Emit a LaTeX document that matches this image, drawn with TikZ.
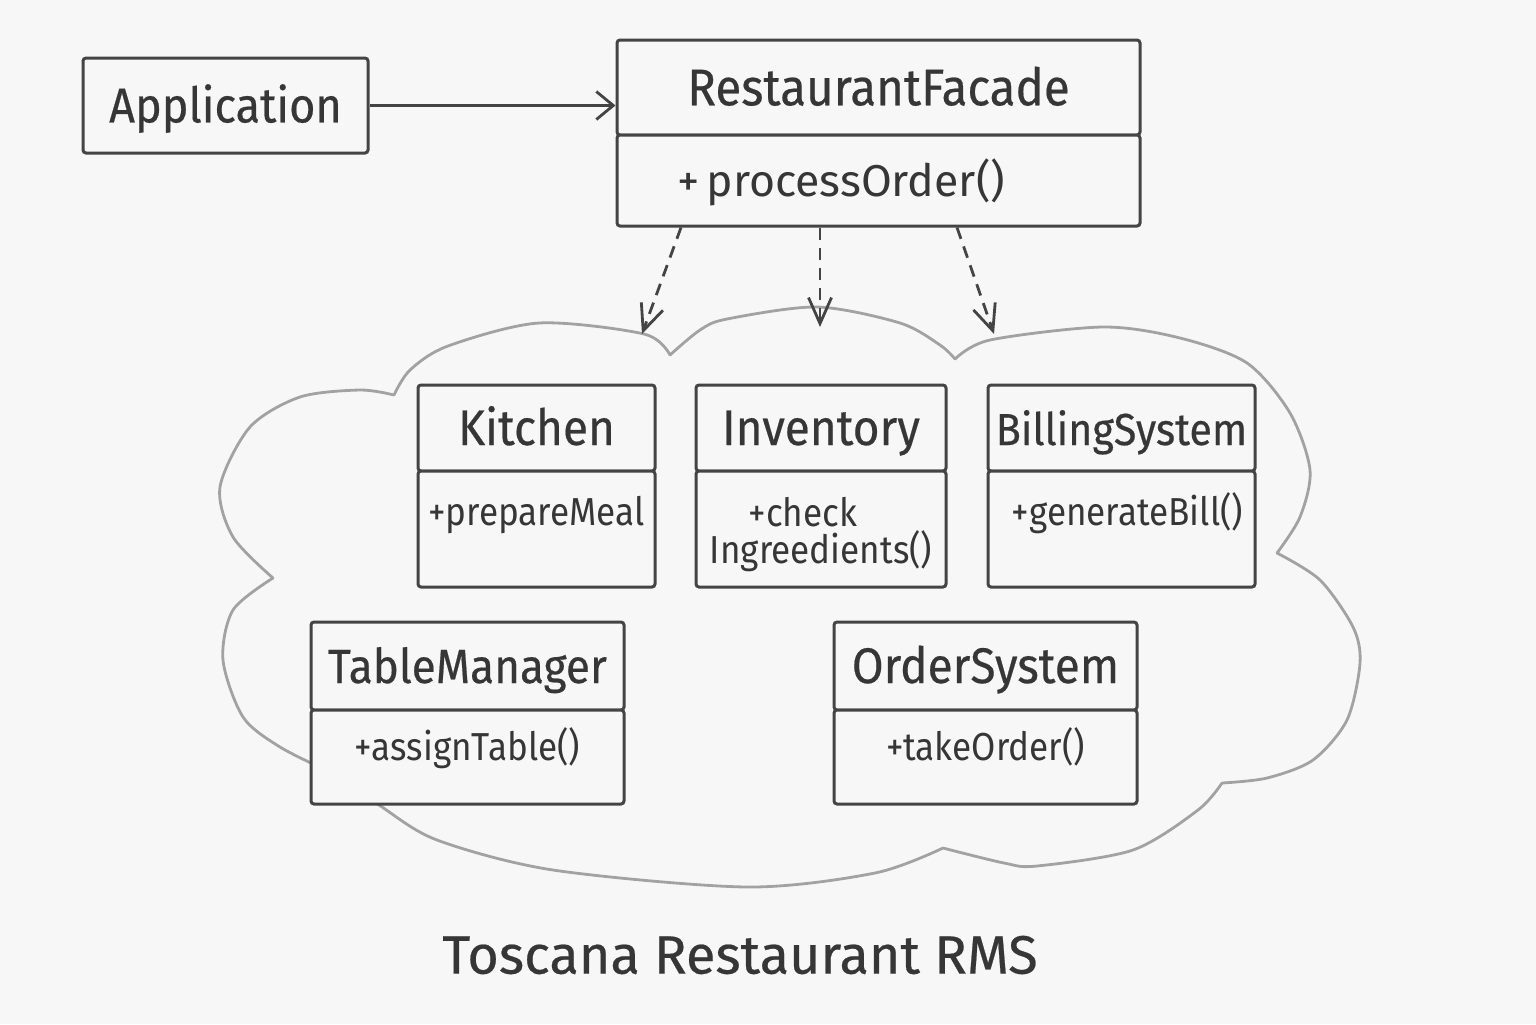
\documentclass[tikz,border=0pt]{standalone}
\usepackage{fontspec}
\setmainfont{Fira Sans}
\newfontfamily\hdfont{Fira Sans}[FakeBold=0.4,FakeStretch=0.92]
\newfontfamily\ttlfont{Fira Sans}[FakeBold=0.4]
\newfontfamily\opsfont{Fira Sans}[FakeStretch=0.9]
\usetikzlibrary{positioning,arrows.meta}
\definecolor{ink}      {HTML}{444444}
\definecolor{txt}      {HTML}{363636}
\definecolor{cloudgray}{HTML}{A2A2A2}
\definecolor{paper}    {HTML}{F7F7F7}
\tikzset{
  every node/.style={text=txt},
  % --- nodes
  box/.style   = {draw=ink, fill=paper, line width=1.5pt, rounded corners=1.5pt, inner sep=0pt},
  hd/.style    = {box, font=\hdfont\fontsize{25}{29}\selectfont, text height=17pt, text depth=0pt},
  ops/.style   = {box, font=\opsfont\fontsize{19.5}{18.5}\selectfont, align=center},
  ttl/.style   = {font=\ttlfont\fontsize{27}{32}\selectfont},
  % --- edges
  e/.style     = {-{Straight Barb[length=8.5pt,width=14pt]}, line width=1.4pt, draw=ink},
  ed/.style    = {e, dash pattern=on 6pt off 4pt, -{Straight Barb[length=13pt,width=11.5pt]}},
  cloudln/.style = {draw=cloudgray, line width=1.4pt, line join=round, line cap=round},
}
\begin{document}
\begin{tikzpicture}[x=0.5pt,y=-0.5pt]
  \fill[paper] (0,0) rectangle (1536,1024);
  \useasboundingbox (0,0) rectangle (1536,1024);
  % the subsystem cloud
  \draw[cloudln]
    plot[smooth] coordinates {(394,395) (410,370) (448,346) (539,323) (644,334) (670,355)}
    plot[smooth] coordinates {(670,355) (700,330) (727,319) (817,307) (900,323) (940,345) (955,359)}
    plot[smooth] coordinates {(955,359) (990,340) (1103,327) (1180,338) (1247,363) (1290,413) (1310,470) (1300,517) (1277,553)}
    plot[smooth] coordinates {(1277,553) (1320,580) (1353,627) (1360,663) (1347,720) (1313,760) (1267,778) (1222,783)}
    plot[smooth] coordinates {(1222,783) (1198,810) (1133,850) (1037,866) (1004,863) (943,848)}
    plot[smooth] coordinates {(943,848) (875,873) (747,887) (553,870) (437,840) (379,805) (330,772)}
    plot[smooth] coordinates {(330,772) (280,747) (243,717) (223,660) (233,610) (273,578)}
    plot[smooth] coordinates {(273,578) (233,537) (220,487) (250,427) (300,397) (360,390) (394,395)};

  \node[hd, minimum width=142.5pt, minimum height=47.5pt, font=\hdfont\fontsize{24.5}{29}\selectfont,
        text height=16.9pt] (app) at (225.5,105.5) {Application};
  \node[hd, minimum width=261.5pt, minimum height=47.5pt, font=\hdfont\fontsize{25.8}{30}\selectfont,
        text height=17.8pt] (facade) at (878.5,87.5) {RestaurantFacade};
  \node[ops, below=-1.5pt of facade, align=left, inner xsep=30pt, text width=201.5pt,
        font=\rmfamily\fontsize{22.3}{27}\selectfont, text height=30.5pt, text depth=15pt] (facadeops) {+\,processOrder()};

  \node[hd, minimum width=118.5pt, minimum height=43pt] (kitchen) at (536.5,428) {Kitchen};
  \node[ops, below=-1.5pt of kitchen, minimum width=118.5pt, text height=27pt, text depth=31pt] (kitchenops) {+prepareMeal};
  \node[hd, minimum width=125pt, minimum height=43pt] (inventory) at (821,428) {Inventory};
  \node[ops, below=-1.5pt of inventory, minimum width=125pt, text height=46pt, text depth=12pt] (inventoryops) {+check\hspace*{18pt}\\Ingreedients()};
  \node[hd, minimum width=133.5pt, minimum height=43pt, font=\hdfont\fontsize{22.4}{27}\selectfont] (billing) at (1121.5,428) {BillingSystem};
  \node[ops, below=-1.5pt of billing, minimum width=133.5pt, text height=27pt, text depth=31pt] (billingops) {\hspace*{6pt}+generateBill()};

  \node[hd, minimum width=156.5pt, minimum height=44pt, font=\hdfont\fontsize{24}{28}\selectfont] (tables) at (467.5,666) {TableManager};
  \node[ops, below=-1.5pt of tables, minimum width=156.5pt, text height=25pt, text depth=22pt] (tablesops) {+assignTable()};
  \node[hd, minimum width=151.5pt, minimum height=44pt] (orders) at (985.5,666) {OrderSystem};
  \node[ops, below=-1.5pt of orders, minimum width=151.5pt, text height=25pt, text depth=22pt] (ordersops) {+takeOrder()};

  \node[ttl] (title) at (740,955) {Toscana Restaurant RMS};

  \coordinate (tokitchen) at (642,334);
  \coordinate (toinventory) at (820,327);
  \coordinate (tobilling) at (994,334);
  \draw[e] (app) -- (app -| facade.west);
  \draw[ed] ([xshift=-98.75pt]facadeops.south) -- (tokitchen);
  \draw[ed] (facadeops.south -| toinventory) -- (toinventory);
  \draw[ed] ([xshift=39.25pt]facadeops.south) -- (tobilling);
\end{tikzpicture}
\end{document}
